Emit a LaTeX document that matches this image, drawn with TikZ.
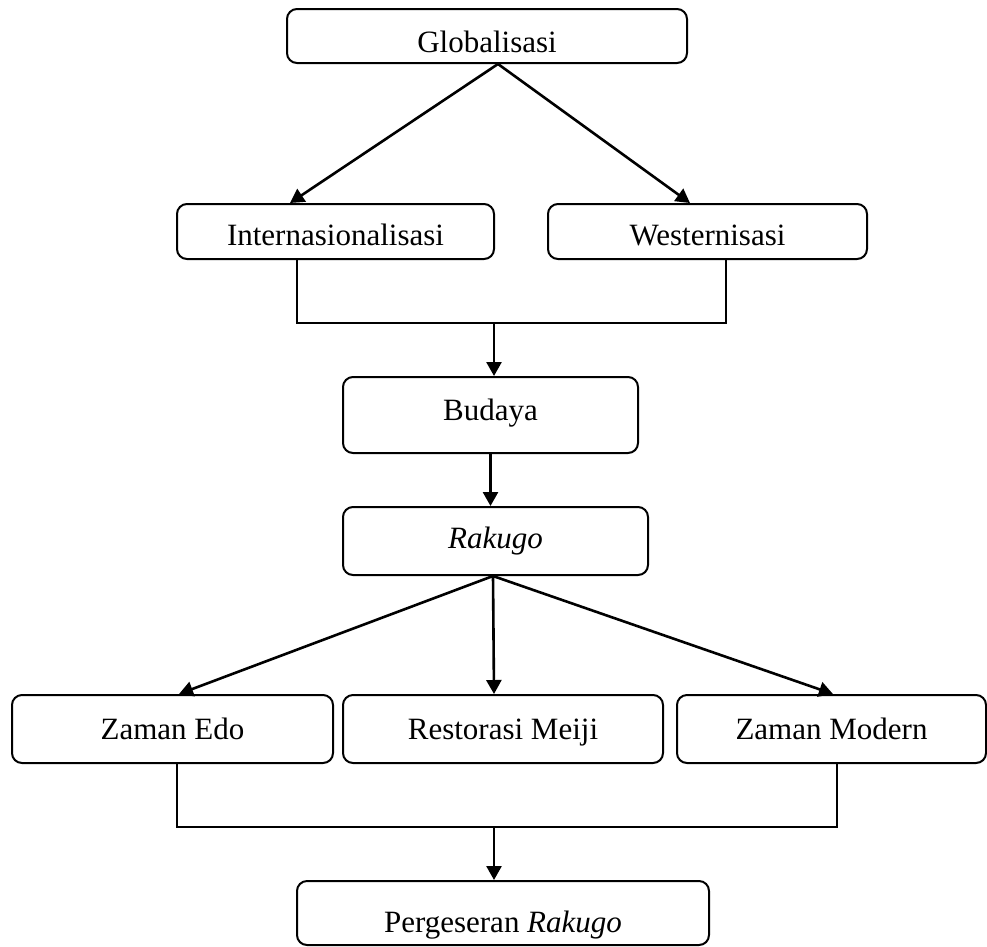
\documentclass[tikz,border=0pt]{standalone}
\usepackage{fontspec}
\setmainfont{Liberation Serif}
\usepackage{tikz}
\usetikzlibrary{arrows.meta,calc}

\begin{document}
\begin{tikzpicture}[x=1pt, y=-1pt]
\tikzstyle{box} = [rectangle, rounded corners=10pt, draw=black, line width=2pt, fill=white, inner sep=0pt, text depth=7pt, text centered, font=\fontsize{31}{37}\selectfont]
\tikzstyle{line} = [line width=2.6pt]
\tikzstyle{arrow} = [line width=2.6pt, -{Triangle[length=14pt,width=15pt]}]

\useasboundingbox (0,0) rectangle (987,946);

\node (glob) [box, minimum width=400pt, minimum height=54pt, text height=39pt] at (487,36) {Globalisasi};
\node (intern) [box, minimum width=317pt, minimum height=55pt, text height=34pt] at (335.5,231.5) {Internasionalisasi};
\node (western) [box, minimum width=319pt, minimum height=55pt, text height=34pt] at (707.5,231.5) {Westernisasi};
\node (budaya) [box, minimum width=295pt, minimum height=76pt, text height=17pt] at (490.5,415) {Budaya};
\node (rakugo) [box, minimum width=305pt, minimum height=68pt, text height=21pt] at (495.5,541) {\textit{Rakugo}};
\node (edo) [box, minimum width=321pt, minimum height=68pt, text height=28pt] at (172.5,729) {Zaman Edo};
\node (meiji) [box, minimum width=320pt, minimum height=68pt, text height=28pt] at (503,729) {Restorasi Meiji};
\node (modern) [box, minimum width=309pt, minimum height=68pt, text height=28pt] at (831.5,729) {Zaman Modern};
\node (perg) [box, minimum width=412pt, minimum height=64pt, text height=45pt] at (503,913) {Pergeseran \textit{Rakugo}};

% globalisasi splits in two
\coordinate (gapex) at ($(glob.south)+(11,0)$);
\draw [arrow] (gapex) -- ([xshift=-45.5pt]intern.north);
\draw [arrow] (gapex) -- ([xshift=-17.5pt]western.north);

% both join into budaya
\coordinate (join1) at (494,323);
\draw [line] ([xshift=-38.5pt]intern.south) |- (join1) -| ([xshift=18.5pt]western.south);
\draw [arrow] (join1) -- (join1 |- budaya.north);
\draw [arrow] (budaya.south) -- (budaya.south |- rakugo.north);

% rakugo in three periods
\coordinate (rapex) at ($(rakugo.south)+(-2.5,0)$);
\draw [arrow] (rapex) -- ([xshift=6.5pt]edo.north);
\draw [arrow] (rapex) -- ([xshift=-9pt]meiji.north);
\draw [arrow] (rapex) -- ([xshift=1.5pt]modern.north);

\coordinate (join2) at (494,827);
\draw [line] ([xshift=4.5pt]edo.south) |- (join2) -| ([xshift=5.5pt]modern.south);
\draw [arrow] (join2) -- (join2 |- perg.north);
\end{tikzpicture}
\end{document}
